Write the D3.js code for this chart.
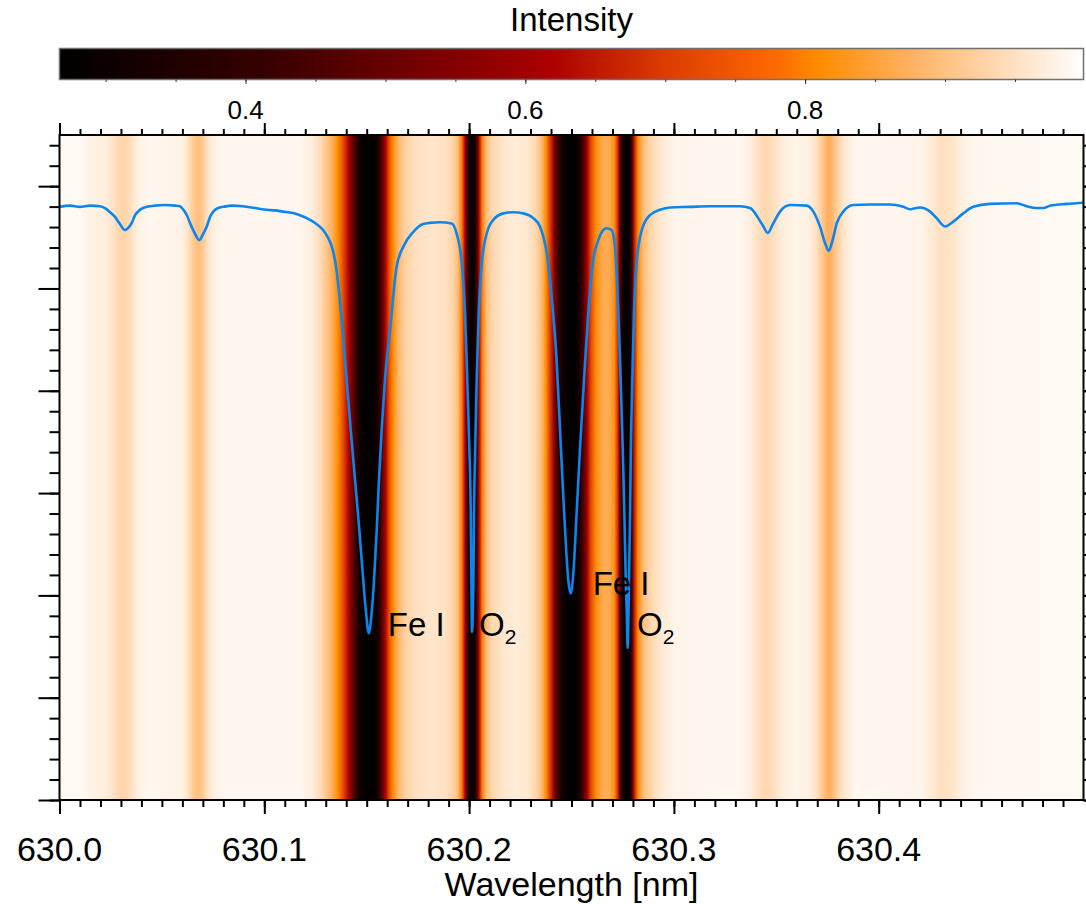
<!DOCTYPE html>
<html>
<head>
<meta charset="utf-8">
<script src="https://cdn.jsdelivr.net/npm/d3@7"></script>
<style>
  html, body { margin: 0; padding: 0; background: #ffffff; }
  svg { display: block; }
  text { font-family: "Liberation Sans", Arial, Helvetica, sans-serif; fill: #000; }
</style>
</head>
<body>
<svg id="chart" width="1086" height="904"></svg>
<script>
// Mean spectral profile: wavelength (nm) and normalised intensity
const profileWavelength = [
  630.0000, 630.0051, 630.0100, 630.0149, 630.0198, 630.0222, 630.0247, 630.0271, 630.0295, 630.0320,
  630.0334, 630.0353, 630.0369, 630.0383, 630.0408, 630.0427, 630.0466, 630.0515, 630.0564, 630.0588,
  630.0605, 630.0623, 630.0637, 630.0657, 630.0683, 630.0701, 630.0719, 630.0735, 630.0751, 630.0774,
  630.0800, 630.0842, 630.0896, 630.0955, 630.1012, 630.1052, 630.1091, 630.1135, 630.1174, 630.1208,
  630.1238, 630.1262, 630.1287, 630.1311, 630.1326, 630.1350, 630.1378, 630.1402, 630.1422, 630.1443,
  630.1464, 630.1483, 630.1497, 630.1510, 630.1524, 630.1536, 630.1549, 630.1560, 630.1573, 630.1589,
  630.1614, 630.1646, 630.1679, 630.1728, 630.1776, 630.1809, 630.1858, 630.1915, 630.1939, 630.1964,
  630.1980, 630.1991, 630.2001, 630.2008, 630.2011, 630.2014, 630.2021, 630.2024, 630.2030, 630.2037,
  630.2047, 630.2062, 630.2086, 630.2118, 630.2167, 630.2216, 630.2265, 630.2313, 630.2346, 630.2379,
  630.2403, 630.2428, 630.2444, 630.2460, 630.2473, 630.2484, 630.2496, 630.2509, 630.2525, 630.2542,
  630.2561, 630.2582, 630.2606, 630.2631, 630.2655, 630.2672, 630.2696, 630.2712, 630.2729, 630.2740,
  630.2750, 630.2758, 630.2765, 630.2770, 630.2774, 630.2781, 630.2786, 630.2790, 630.2797, 630.2805,
  630.2818, 630.2843, 630.2883, 630.2932, 630.2981, 630.3079, 630.3176, 630.3274, 630.3323, 630.3372,
  630.3412, 630.3437, 630.3458, 630.3485, 630.3518, 630.3567, 630.3648, 630.3681, 630.3713, 630.3738,
  630.3756, 630.3775, 630.3795, 630.3827, 630.3876, 630.3958, 630.4055, 630.4120, 630.4153, 630.4202,
  630.4251, 630.4283, 630.4324, 630.4364, 630.4413, 630.4462, 630.4543, 630.4674, 630.4723, 630.4771,
  630.4804, 630.4836, 630.4918, 630.5000
];
const profileIntensity = [
  0.999, 1.001, 0.999, 1.001, 1.000, 0.997, 0.990, 0.982, 0.970, 0.960,
  0.963, 0.972, 0.985, 0.991, 0.997, 0.999, 1.001, 1.002, 1.001, 1.000,
  0.994, 0.984, 0.972, 0.957, 0.943, 0.953, 0.966, 0.982, 0.991, 0.997,
  0.999, 1.001, 1.000, 0.997, 0.994, 0.993, 0.991, 0.989, 0.985, 0.980,
  0.974, 0.968, 0.960, 0.947, 0.936, 0.899, 0.808, 0.707, 0.623, 0.539,
  0.455, 0.371, 0.315, 0.281, 0.315, 0.371, 0.455, 0.539, 0.623, 0.707,
  0.792, 0.898, 0.932, 0.957, 0.970, 0.972, 0.973, 0.971, 0.954, 0.904,
  0.820, 0.707, 0.595, 0.483, 0.371, 0.283, 0.371, 0.483, 0.595, 0.707,
  0.820, 0.904, 0.954, 0.977, 0.988, 0.990, 0.988, 0.980, 0.966, 0.921,
  0.848, 0.736, 0.623, 0.511, 0.427, 0.371, 0.348, 0.382, 0.483, 0.595,
  0.707, 0.820, 0.909, 0.943, 0.960, 0.963, 0.960, 0.932, 0.820, 0.707,
  0.595, 0.483, 0.371, 0.314, 0.256, 0.371, 0.483, 0.595, 0.707, 0.820,
  0.904, 0.960, 0.985, 0.994, 0.998, 0.999, 1.000, 1.000, 1.000, 0.997,
  0.980, 0.966, 0.955, 0.971, 0.991, 1.002, 1.001, 0.991, 0.966, 0.938,
  0.925, 0.943, 0.971, 0.991, 1.002, 1.003, 1.003, 0.999, 0.995, 0.998,
  0.991, 0.980, 0.966, 0.974, 0.988, 0.999, 1.004, 1.005, 1.000, 0.997,
  0.997, 1.001, 1.004, 1.006
];

// Spectrogram columns: wavelength (nm) and intensity shown in colour
const imageWavelength = [
  630.0000, 630.0100, 630.0149, 630.0222, 630.0261, 630.0286, 630.0310, 630.0334, 630.0364, 630.0393,
  630.0442, 630.0598, 630.0627, 630.0652, 630.0676, 630.0701, 630.0725, 630.0754, 630.0808, 630.1174,
  630.1233, 630.1272, 630.1306, 630.1335, 630.1360, 630.1384, 630.1409, 630.1428, 630.1448, 630.1467,
  630.1492, 630.1526, 630.1550, 630.1565, 630.1580, 630.1594, 630.1609, 630.1628, 630.1653, 630.1687,
  630.1736, 630.1809, 630.1882, 630.1921, 630.1946, 630.1965, 630.1980, 630.1990, 630.2000, 630.2014,
  630.2029, 630.2039, 630.2048, 630.2063, 630.2083, 630.2112, 630.2161, 630.2224, 630.2283, 630.2327,
  630.2356, 630.2376, 630.2395, 630.2415, 630.2434, 630.2454, 630.2478, 630.2517, 630.2537, 630.2556,
  630.2576, 630.2595, 630.2620, 630.2654, 630.2683, 630.2708, 630.2722, 630.2734, 630.2744, 630.2754,
  630.2776, 630.2788, 630.2798, 630.2810, 630.2825, 630.2849, 630.2888, 630.2942, 630.3005, 630.3323,
  630.3372, 630.3411, 630.3450, 630.3489, 630.3533, 630.3591, 630.3655, 630.3694, 630.3723, 630.3748,
  630.3767, 630.3792, 630.3826, 630.3884, 630.4211, 630.4260, 630.4304, 630.4348, 630.4397, 630.4470,
  630.5000
];
const imageIntensity = [
  0.990, 0.990, 0.978, 0.972, 0.955, 0.938, 0.930, 0.938, 0.962, 0.980,
  0.986, 0.980, 0.955, 0.915, 0.895, 0.915, 0.955, 0.976, 0.986, 0.986,
  0.972, 0.945, 0.905, 0.865, 0.810, 0.730, 0.630, 0.520, 0.400, 0.310,
  0.275, 0.275, 0.310, 0.400, 0.520, 0.630, 0.730, 0.810, 0.880, 0.925,
  0.948, 0.958, 0.952, 0.930, 0.890, 0.790, 0.620, 0.450, 0.320, 0.275,
  0.320, 0.450, 0.620, 0.790, 0.890, 0.935, 0.958, 0.968, 0.962, 0.935,
  0.885, 0.810, 0.700, 0.560, 0.420, 0.320, 0.275, 0.275, 0.320, 0.440,
  0.600, 0.720, 0.815, 0.865, 0.865, 0.825, 0.720, 0.550, 0.380, 0.290,
  0.275, 0.330, 0.500, 0.680, 0.810, 0.890, 0.935, 0.965, 0.982, 0.986,
  0.972, 0.950, 0.935, 0.950, 0.972, 0.982, 0.976, 0.952, 0.915, 0.875,
  0.875, 0.915, 0.958, 0.986, 0.982, 0.963, 0.948, 0.952, 0.972, 0.986,
  0.990
];

// Colour table: intensity levels and their colours
const colorLevels = [0.267, 0.42, 0.617, 0.70, 0.78, 0.81, 0.87, 0.93, 0.999];
const colorValues = ["#000000", "#3a0000", "#aa0000", "#dc3c00", "#ff6a00", "#ff8c00", "#ffae5a", "#ffd4a8", "#ffffff"];
const colorbarRange = [0.267, 0.999];

const wavelengthTicks = [630.0, 630.1, 630.2, 630.3, 630.4];
const colorbarTicks = [0.4, 0.6, 0.8];

// Spectral line identifications
const lineNames = ["Fe I", "O", "Fe I", "O"];
const lineSubscripts = ["", "2", "", "2"];
const lineWavelength = [630.1510, 630.2014, 630.2496, 630.2774];

// ---------------------------------------------------------------- layout
const plot = { left: 59.5, right: 1083.5, top: 135, bottom: 800 };
const cbar = { top: 48.5, bottom: 79.5 };
const labelStyle = [
  { dx: 19, y: 636 }, { dx: 7, y: 636 }, { dx: 22, y: 595 }, { dx: 9.5, y: 636 }
];

const svg = d3.select("#chart");

const x = d3.scaleLinear().domain([630.0, 630.5]).range([plot.left, plot.right]);
const yPos = d3.scaleLinear().domain([0, 65]).range([plot.bottom, plot.top]);
const yInt = d3.scaleLinear().domain([0, 1.12]).range([plot.bottom, plot.top]);
const color = d3.scaleLinear().domain(colorLevels).range(colorValues)
  .interpolate(d3.interpolateRgb).clamp(true);
const cx = d3.scaleLinear().domain(colorbarRange).range([plot.left, plot.right]);

const defs = svg.append("defs");

// Spectrogram as a horizontal colour ramp over the plot area
const imgGrad = defs.append("linearGradient")
  .attr("id", "spectrogram")
  .attr("gradientUnits", "userSpaceOnUse")
  .attr("x1", x(630.0)).attr("x2", x(630.5)).attr("y1", 0).attr("y2", 0);
imgGrad.selectAll("stop")
  .data(d3.zip(imageWavelength, imageIntensity))
  .join("stop")
  .attr("offset", d => (x(d[0]) - plot.left) / (plot.right - plot.left))
  .attr("stop-color", d => color(d[1]));

defs.append("clipPath").attr("id", "plotClip")
  .append("rect")
  .attr("x", plot.left).attr("y", plot.top)
  .attr("width", plot.right - plot.left).attr("height", plot.bottom - plot.top);

svg.append("rect")
  .attr("x", plot.left).attr("y", plot.top)
  .attr("width", plot.right - plot.left).attr("height", plot.bottom - plot.top)
  .attr("fill", "url(#spectrogram)");

// Mean profile
const line = d3.line().curve(d3.curveMonotoneX).x(d => x(d[0])).y(d => yInt(d[1]));
svg.append("path")
  .datum(d3.zip(profileWavelength, profileIntensity))
  .attr("clip-path", "url(#plotClip)")
  .attr("fill", "none")
  .attr("stroke", "#0a86ec")
  .attr("stroke-width", 2.6)
  .attr("stroke-linejoin", "round")
  .attr("d", line);

// ---------------------------------------------------------------- axes
const minorWl = d3.range(0, 50).map(i => 630 + i * 0.01);
const minorPos = d3.range(0, 33).map(i => i * 2);
const majorPos = d3.range(0, 7).map(i => i * 10);

function styleAxis(g) {
  g.select(".domain").remove();
  g.selectAll(".tick line").attr("stroke", "#000").attr("stroke-width", 2);
  g.selectAll(".tick text").remove();
}

svg.append("g").attr("transform", `translate(0,${plot.bottom})`)
  .call(d3.axisBottom(x).tickValues(minorWl).tickSize(7)).call(styleAxis);
svg.append("g").attr("transform", `translate(0,${plot.bottom})`)
  .call(d3.axisBottom(x).tickValues(wavelengthTicks).tickSize(14)).call(styleAxis);
svg.append("g").attr("transform", `translate(0,${plot.top})`)
  .call(d3.axisTop(x).tickValues(minorWl).tickSize(6)).call(styleAxis);
svg.append("g").attr("transform", `translate(0,${plot.top})`)
  .call(d3.axisTop(x).tickValues(wavelengthTicks).tickSize(12)).call(styleAxis);
svg.append("g").attr("transform", `translate(${plot.left},0)`)
  .call(d3.axisLeft(yPos).tickValues(minorPos).tickSize(10)).call(styleAxis);
svg.append("g").attr("transform", `translate(${plot.left},0)`)
  .call(d3.axisLeft(yPos).tickValues(majorPos).tickSize(21)).call(styleAxis);
svg.append("g").attr("transform", `translate(${plot.right},0)`)
  .call(d3.axisRight(yPos).tickValues(minorPos).tickSize(10)).call(styleAxis);
svg.append("g").attr("transform", `translate(${plot.right},0)`)
  .call(d3.axisRight(yPos).tickValues(majorPos).tickSize(21)).call(styleAxis);

svg.append("rect")
  .attr("x", plot.left).attr("y", plot.top)
  .attr("width", plot.right - plot.left).attr("height", plot.bottom - plot.top)
  .attr("fill", "none").attr("stroke", "#000").attr("stroke-width", 2);

svg.append("g").selectAll("text")
  .data(wavelengthTicks)
  .join("text")
  .attr("x", d => x(d)).attr("y", 861)
  .attr("text-anchor", "middle")
  .attr("font-size", 34)
  .text(d => d.toFixed(1));

svg.append("text")
  .attr("x", (plot.left + plot.right) / 2).attr("y", 896)
  .attr("text-anchor", "middle").attr("font-size", 34)
  .text("Wavelength [nm]");

// ---------------------------------------------------------------- line labels
lineNames.forEach((name, i) => {
  const t = svg.append("text")
    .attr("x", x(lineWavelength[i]) + labelStyle[i].dx)
    .attr("y", labelStyle[i].y)
    .attr("font-size", 33)
    .text(name);
  if (lineSubscripts[i]) {
    t.append("tspan").attr("font-size", 21).attr("dy", 8).text(lineSubscripts[i]);
  }
});

// ---------------------------------------------------------------- colour bar
const cbGrad = defs.append("linearGradient")
  .attr("id", "colourbar")
  .attr("gradientUnits", "userSpaceOnUse")
  .attr("x1", cx(colorbarRange[0])).attr("x2", cx(colorbarRange[1])).attr("y1", 0).attr("y2", 0);
cbGrad.selectAll("stop")
  .data(d3.zip(colorLevels, colorValues))
  .join("stop")
  .attr("offset", d => (cx(d[0]) - plot.left) / (plot.right - plot.left))
  .attr("stop-color", d => d[1]);

svg.append("rect")
  .attr("x", plot.left).attr("y", cbar.top)
  .attr("width", plot.right - plot.left).attr("height", cbar.bottom - cbar.top)
  .attr("fill", "url(#colourbar)")
  .attr("stroke", "#707070").attr("stroke-width", 1.5);

const cbMinor = d3.range(6, 20).map(i => i * 0.05);
svg.append("g").attr("transform", `translate(0,${cbar.bottom})`)
  .call(d3.axisBottom(cx).tickValues(cbMinor).tickSize(2.5)).call(styleAxis)
  .selectAll(".tick line").attr("stroke-width", 1).attr("stroke", "#333");
svg.append("g").attr("transform", `translate(0,${cbar.bottom})`)
  .call(d3.axisBottom(cx).tickValues(colorbarTicks).tickSize(4.5)).call(styleAxis)
  .selectAll(".tick line").attr("stroke-width", 1).attr("stroke", "#333");

svg.append("g").selectAll("text")
  .data(colorbarTicks)
  .join("text")
  .attr("x", d => cx(d)).attr("y", 119)
  .attr("text-anchor", "middle").attr("font-size", 26)
  .text(d => d.toFixed(1));

svg.append("text")
  .attr("x", (plot.left + plot.right) / 2).attr("y", 31)
  .attr("text-anchor", "middle").attr("font-size", 33)
  .text("Intensity");
</script>
</body>
</html>
